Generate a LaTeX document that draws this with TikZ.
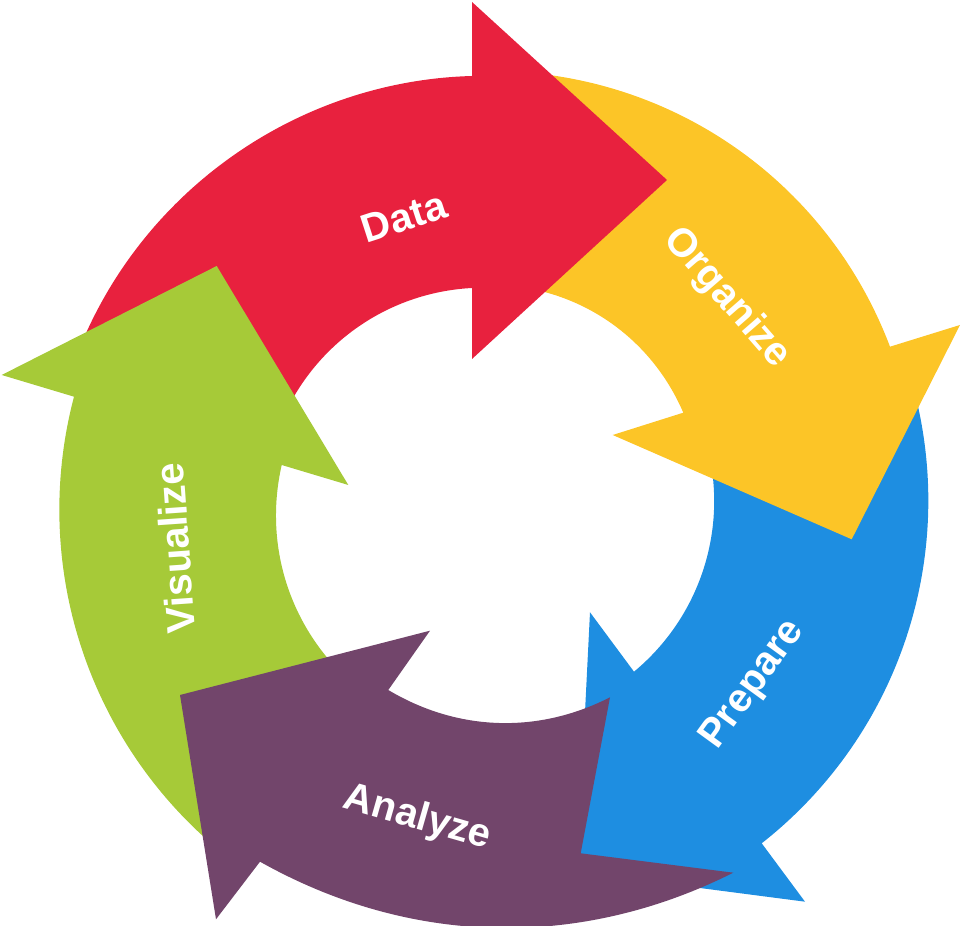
\documentclass[tikz,border=0pt]{standalone}
\usepackage{fontspec}
\setmainfont{Liberation Sans}
\usepackage{tikz}

\definecolor{datared}{HTML}{E8213E}
\definecolor{orgyellow}{HTML}{FCC527}
\definecolor{prepblue}{HTML}{1E8EE1}
\definecolor{anapurple}{HTML}{72456B}
\definecolor{visgreen}{HTML}{A6CA38}

\begin{document}
\begin{tikzpicture}[x=0.5pt,y=0.5pt,
  word/.style={text=white,font=\fontsize{20}{24}\selectfont\bfseries,inner sep=0pt},
  rim/.style={looseness=0.93}]
\useasboundingbox (0,0) rectangle (960,926);

% blue first, the purple tail lies over its head
\fill[prepblue] (913,540) to[bend left=33.5,rim] (761.7,82.7) -- (805,24.3) -- (577,54) -- (590,313.7) -- (634,254.3) to[bend right=33.4,rim] (705,488) -- cycle;

\fill[orgyellow] (520,854) to[bend left=32.7,rim] (890,579.3) -- (960,601) -- (851.7,386.7) -- (612.7,491) -- (683.3,513.3) to[bend right=31.9,rim] (500,641) -- cycle;

\fill[datared] (75,566) to[bend left=34,rim] (472,850) -- (472,924) -- (667,746) -- (472,567) -- (472,638) to[bend right=32.5,rim] (280,501) -- cycle;

\fill[visgreen] (225,71) to[bend left=33,rim] (74,529.3) -- (1.7,551) -- (216.7,660) -- (348.3,441) -- (281.7,461) to[bend right=32,rim] (360,236) -- cycle;

% notched tail
\fill[anapurple] (733.3,53.3) to[bend left=28,rim] (260,64.3) -- (216,6.7) -- (180,231) -- (430,295.3) -- (388.3,236) to[bend right=29,rim] (610,228.7) -- (580.7,72.7) -- cycle;

\node[word,rotate=18] (data) at (404,709) {Data};
\node[word,rotate=-49] (organize) at (726.7,627.7) {Organize};
\node[word,rotate=54] (prepare) at (753.3,241) {Prepare};
\node[word,rotate=-16] (analyze) at (417.5,107.7) {Analyze};
\node[word,rotate=94] (visualize) at (175,378) {Visualize};
\end{tikzpicture}
\end{document}
